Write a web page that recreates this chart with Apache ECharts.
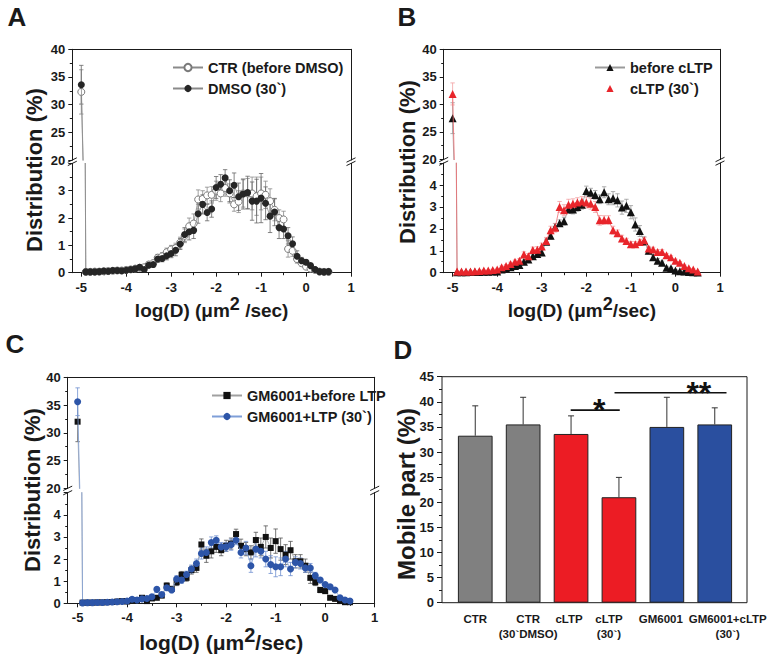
<!DOCTYPE html>
<html><head><meta charset="utf-8">
<script src="https://cdn.jsdelivr.net/npm/echarts@6/dist/echarts.min.js"></script>
<style>html,body{margin:0;padding:0;background:#fff}#c{width:774px;height:656px}</style>
</head><body><div id="c"></div>
<script>
// ---------------- DATA ----------------
const logD = [-5, -4.9, -4.8, -4.7, -4.6, -4.5, -4.4, -4.3, -4.2, -4.1, -4.0, -3.9, -3.8, -3.7, -3.6, -3.5, -3.4, -3.3, -3.2, -3.1, -3.0, -2.9, -2.8, -2.7, -2.6, -2.5, -2.4, -2.3, -2.2, -2.1, -2.0, -1.9, -1.8, -1.7, -1.6, -1.5, -1.4, -1.3, -1.2, -1.1, -1.0, -0.9, -0.8, -0.7, -0.6, -0.5, -0.4, -0.3, -0.2, -0.1, 0.0, 0.1, 0.2, 0.3, 0.4, 0.5];
const xTicks = [-5, -4, -3, -2, -1, 0, 1];

// Panel A
const A_ctr = [32.3, 0.03,0.03,0.04,0.04,0.05,0.06,0.07,0.08,0.08,0.1, 0.12,0.15,0.18,0.2,0.3,0.35,0.55,0.6,0.75,0.85, 0.9,1.1,1.35,1.7,1.8,2.68,2.7,2.83,2.85,3.0, 2.9,3.1,2.9,2.5,2.6,2.9,2.9,2.9,2.8,2.9, 2.85,2.62,2.3,2.0,1.95,0.87,0.8,0.5,0.35,0.22, 0.15,0.1,0.04,0.03,0.03];
const A_ctrErr = [4.0, 0.02,0.02,0.02,0.02,0.03,0.03,0.03,0.03,0.04,0.04, 0.05,0.05,0.06,0.07,0.08,0.1,0.12,0.13,0.15,0.15, 0.18,0.2,0.25,0.3,0.35,0.35,0.3,0.3,0.3,0.35, 0.3,0.3,0.35,0.25,0.4,0.5,0.55,0.6,0.7,0.6, 0.5,0.45,0.4,0.3,0.3,0.3,0.2,0.15,0.1,0.08, 0.06,0.05,0.03,0.02,0.02];
const A_dmso = [33.6, 0.03,0.03,0.03,0.04,0.06,0.05,0.08,0.08,0.07,0.09, 0.12,0.14,0.2,0.12,0.27,0.3,0.5,0.52,0.62,0.7, 0.82,1.05,1.4,1.5,1.55,2.16,2.5,2.2,2.33,3.12, 3.24,3.47,3.0,3.2,2.78,2.88,2.93,2.62,2.62,2.73, 2.54,2.07,2.22,1.65,1.6,1.35,1.06,0.6,0.44,0.38, 0.26,0.12,0.04,0.03,0.04];
const A_dmsoErr = [3.5, 0.02,0.02,0.02,0.02,0.03,0.03,0.03,0.03,0.03,0.04, 0.05,0.05,0.06,0.06,0.08,0.1,0.12,0.12,0.15,0.15, 0.2,0.2,0.25,0.3,0.3,0.35,0.35,0.3,0.3,0.4, 0.35,0.3,0.4,0.45,0.5,0.55,0.6,0.7,0.8,0.9, 0.6,0.6,0.5,0.4,0.35,0.3,0.25,0.2,0.12,0.1, 0.08,0.06,0.03,0.02,0.02];

// Panel B
const B_before = [27.5, 0.02,0.02,0.02,0.03,0.03,0.03,0.04,0.04,0.05,0.06, 0.15,0.2,0.25,0.3,0.35,0.5,0.6,0.75,0.85,0.92, 1.41,1.68,2.09,2.26,2.35,2.9,2.88,3.0,3.1,3.73, 3.65,3.55,3.35,3.67,3.35,3.4,3.3,2.97,3.05,2.76, 2.2,1.9,1.44,1.0,0.7,0.55,0.45,0.23,0.2,0.1, 0.07,0.05,0.03,0.02,0.01];
const B_beforeErr = [2.8, 0.01,0.01,0.01,0.01,0.01,0.02,0.02,0.02,0.02,0.03, 0.04,0.05,0.05,0.06,0.06,0.08,0.08,0.1,0.1,0.12, 0.12,0.15,0.15,0.15,0.18,0.2,0.2,0.2,0.2,0.22, 0.2,0.2,0.2,0.25,0.25,0.3,0.3,0.3,0.3,0.3, 0.3,0.25,0.2,0.15,0.12,0.1,0.08,0.06,0.05,0.04, 0.03,0.02,0.02,0.01,0.01];
const B_cltp = [31.9, 0.05,0.05,0.06,0.06,0.07,0.08,0.1,0.1,0.12,0.15, 0.25,0.3,0.4,0.5,0.55,0.83,0.75,1.03,1.05,1.2, 1.45,1.94,2.05,3.0,2.85,3.1,3.15,3.2,3.25,3.2, 3.15,3.0,2.39,2.4,2.4,1.94,1.8,1.56,1.45,1.3, 1.3,1.4,1.48,1.1,1.06,0.95,0.95,0.8,0.7,0.55, 0.45,0.3,0.2,0.15,0.05];
const B_cltpErr = [2.0, 0.02,0.02,0.02,0.02,0.02,0.03,0.03,0.03,0.04,0.05, 0.06,0.07,0.08,0.08,0.1,0.12,0.12,0.14,0.14,0.15, 0.16,0.18,0.2,0.25,0.25,0.25,0.22,0.22,0.22,0.25, 0.25,0.25,0.22,0.2,0.2,0.18,0.15,0.15,0.12,0.12, 0.12,0.12,0.12,0.1,0.1,0.1,0.1,0.08,0.08,0.07, 0.06,0.05,0.04,0.03,0.02];

// Panel C
const C_before = [32.0, 0.03,0.03,0.03,0.04,0.04,0.05,0.06,0.08,0.1,0.08, 0.15,0.15,0.25,0.1,0.22,0.25,0.35,0.8,0.65,0.95, 1.29,1.15,1.5,1.6,2.66,2.15,2.35,2.55,2.4,2.6, 2.7,3.13,2.6,2.45,2.3,2.86,2.55,3.0,2.5,2.81, 2.45,2.2,2.4,1.9,1.9,1.7,1.15,0.95,0.6,0.55, 0.25,0.2,0.1,0.05,0.05];
const C_beforeErr = [3.6, 0.02,0.02,0.02,0.02,0.03,0.03,0.03,0.04,0.04,0.04, 0.05,0.05,0.06,0.06,0.07,0.08,0.1,0.12,0.12,0.15, 0.15,0.15,0.18,0.2,0.25,0.3,0.3,0.25,0.25,0.25, 0.25,0.22,0.3,0.3,0.3,0.35,0.4,0.5,0.45,0.55, 0.5,0.45,0.4,0.3,0.3,0.3,0.25,0.15,0.12,0.1, 0.08,0.05,0.04,0.03,0.02];
const C_ltp = [35.6, 0.02,0.03,0.03,0.04,0.04,0.05,0.06,0.07,0.08,0.1, 0.18,0.15,0.2,0.22,0.3,0.63,0.4,0.7,0.6,1.1, 1.05,1.3,1.55,1.8,2.25,2.3,2.75,2.85,2.55,2.55, 2.65,2.85,2.3,2.5,1.7,2.45,2.35,2.0,1.75,1.65, 1.65,2.0,1.55,1.85,1.8,1.6,1.6,1.25,1.05,0.85, 0.75,0.6,0.25,0.15,0.1];
const C_ltpErr = [2.5, 0.02,0.02,0.02,0.02,0.03,0.03,0.03,0.03,0.04,0.04, 0.05,0.05,0.06,0.06,0.07,0.1,0.1,0.12,0.12,0.15, 0.15,0.15,0.18,0.2,0.25,0.25,0.25,0.2,0.2,0.2, 0.25,0.2,0.25,0.3,0.3,0.35,0.3,0.35,0.4,0.45, 0.4,0.35,0.3,0.25,0.25,0.2,0.2,0.15,0.12,0.1, 0.1,0.08,0.06,0.04,0.03];

// Panel D
const barCats = ['CTR', 'CTR\n(30`DMSO)', 'cLTP', 'cLTP\n(30`)', 'GM6001', 'GM6001+cLTP\n(30`)'];
const barVals = [33.25, 35.5, 33.6, 21.0, 35.0, 35.5];
const barErr = [5.95, 5.4, 3.6, 3.95, 5.9, 3.3];
const sigBrackets = [ // [from, to, level, star position, text] in bar-axis units
  [3.0, 4.03, 38.35, 3.6, '*'],
  [3.92, 6.27, 41.8, 5.69, '**']
];

// ---------------- STYLE / LAYOUT ----------------
const FONT = '"Liberation Sans", Arial, Helvetica, sans-serif';
const INK = '#1a1a1a';
const barColors = ['#808080', '#808080', '#ec1c24', '#ec1c24', '#2a4f9f', '#2a4f9f'];
const labelShift = [0, 10, -4, -20, -12, 26]; // horizontal nudges of category labels (px, doubled)
const axisLS = {color: INK, width: 1};
const tickLab = {fontFamily: FONT, fontWeight: 'bold', fontSize: 13, color: INK};

const grids = [], xAxes = [], yAxes = [], series = [], graphics = [], legends = [];

function errRender(color, cap) {
  return function (params, api) {
    const x = api.value(0), y = api.value(1), e = api.value(2);
    const a = api.coord([x, y + e]), b = api.coord([x, y - e]);
    const st = {stroke: color, lineWidth: 0.8};
    return {type: 'group', children: [
      {type: 'line', shape: {x1: a[0], y1: a[1], x2: b[0], y2: b[1]}, style: st},
      {type: 'line', shape: {x1: a[0] - cap, y1: a[1], x2: a[0] + cap, y2: a[1]}, style: st},
      {type: 'line', shape: {x1: b[0] - cap, y1: b[1], x2: b[0] + cap, y2: b[1]}, style: st}
    ]};
  };
}

function addPanel(L, defs) {
  const g = grids.length;
  const w = L.right - L.left;
  grids.push({left: L.left, top: L.uTop, width: w, height: L.uBot - L.uTop});
  grids.push({left: L.left, top: L.lTop, width: w, height: L.lBot - L.lTop});
  const xi = xAxes.length;
  xAxes.push({type: 'value', gridIndex: g, position: 'top', min: -5.2, max: 1,
    axisLine: {show: true, onZero: false, lineStyle: axisLS}, axisTick: {show: false}, axisLabel: {show: false}, splitLine: {show: false}});
  xAxes.push({type: 'value', gridIndex: g + 1, position: 'bottom', min: -5.2, max: 1,
    axisLine: {show: true, onZero: false, lineStyle: axisLS},
    axisTick: {show: true, length: 4, lineStyle: axisLS, customValues: xTicks},
    minorTick: {show: true, splitNumber: 2, length: 2.5, lineStyle: axisLS},
    axisLabel: Object.assign({margin: 8, customValues: xTicks}, tickLab), splitLine: {show: false},
    name: 'log(D) (μm{s|2}' + L.xSep + '/sec)', nameLocation: 'middle', nameGap: L.nameGap,
    nameTextStyle: {fontFamily: FONT, fontWeight: 'bold', fontSize: L.xFont, color: INK,
      rich: {s: {fontFamily: FONT, fontWeight: 'bold', fontSize: L.xFont - 1, color: INK, padding: [0, 0, 14, 0]}}}});
  const yi = yAxes.length;
  yAxes.push({type: 'value', gridIndex: g, position: 'left', min: 20, max: 40, interval: 5,
    axisLine: {show: true, onZero: false, lineStyle: axisLS}, axisTick: {show: true, length: 4, lineStyle: axisLS},
    minorTick: {show: true, splitNumber: 2, length: 2.5, lineStyle: axisLS},
    axisLabel: Object.assign({margin: 7}, tickLab), splitLine: {show: false}});
  yAxes.push({type: 'value', gridIndex: g, position: 'right', min: 20, max: 40,
    axisLine: {show: true, onZero: false, lineStyle: axisLS}, axisTick: {show: false}, axisLabel: {show: false}, splitLine: {show: false}});
  yAxes.push({type: 'value', gridIndex: g + 1, position: 'left', min: 0, max: L.lMax, interval: 1,
    axisLine: {show: true, onZero: false, lineStyle: axisLS}, axisTick: {show: true, length: 4, lineStyle: axisLS},
    minorTick: {show: true, splitNumber: 2, length: 2.5, lineStyle: axisLS},
    axisLabel: Object.assign({margin: 7, showMaxLabel: false}, tickLab), splitLine: {show: false}});
  yAxes.push({type: 'value', gridIndex: g + 1, position: 'right', min: 0, max: L.lMax,
    axisLine: {show: true, onZero: false, lineStyle: axisLS}, axisTick: {show: false}, axisLabel: {show: false}, splitLine: {show: false}});

  defs.forEach((d, k) => {
    const pts = logD.map((x, i) => [x, d.vals[i]]);
    const epts = logD.map((x, i) => [x, d.vals[i], d.errs[i]]);
    [[xi, yi], [xi + 1, yi + 2]].forEach(([xa, ya]) => {
      series.push({type: 'custom', name: d.name + ' err', xAxisIndex: xa, yAxisIndex: ya, clip: true, silent: true, z: 1 + k,
        encode: {x: 0, y: 1}, data: epts, renderItem: errRender(d.errColor, 2.2)});
    });
    [[xi, yi], [xi + 1, yi + 2]].forEach(([xa, ya]) => {
      series.push({type: 'line', name: d.name, xAxisIndex: xa, yAxisIndex: ya, clip: true, z: 5 + k,
        data: pts, symbol: d.symbol, symbolSize: d.size, showSymbol: true,
        lineStyle: {color: d.lineColor, width: 0.8},
        itemStyle: {color: d.fill, borderColor: d.border, borderWidth: d.bw},
        emphasis: {disabled: true}, silent: true});
    });
  });

  legends.push({orient: 'vertical', left: L.legLeft, top: L.legTop, itemWidth: 30, itemHeight: 9, itemGap: 6,
    selectedMode: false, textStyle: {fontFamily: FONT, fontWeight: 'bold', fontSize: 14.5, color: INK},
    data: defs.map(d => d.noLegLine ? {name: d.name, lineStyle: {color: 'rgba(0,0,0,0)', opacity: 0}} : {name: d.name})});

  // axis break marks
  const mk = (x, y) => graphics.push({type: 'line', shape: {x1: x - 4.5, y1: y + 2.2, x2: x + 4.5, y2: y - 2.2}, style: {stroke: INK, lineWidth: 1}});
  [L.left, L.right].forEach(x => { mk(x, L.uBot); mk(x, L.lTop); });
}

addPanel({left: 72.3, right: 351, uTop: 49.3, uBot: 160, lTop: 163.4, lBot: 272.7, lMax: 4,
  xSep: ' ', xFont: 19, nameGap: 22, legLeft: 167, legTop: 55}, [
  {name: 'CTR (before DMSO)', vals: A_ctr, errs: A_ctrErr, symbol: 'circle', size: 7, fill: '#ffffff', border: '#7a7a7a', bw: 1, lineColor: '#8a8a8a', errColor: '#8a8a8a'},
  {name: 'DMSO (30`)', vals: A_dmso, errs: A_dmsoErr, symbol: 'circle', size: 7, fill: '#262626', border: '#262626', bw: 0, lineColor: '#8a8a8a', errColor: '#666666'}
]);
addPanel({left: 443.7, right: 720, uTop: 49.3, uBot: 159.5, lTop: 163.1, lBot: 272.7, lMax: 5,
  xSep: '', xFont: 19, nameGap: 22, legLeft: 589, legTop: 55}, [
  {name: 'before cLTP', vals: B_before, errs: B_beforeErr, symbol: 'triangle', size: 8, fill: '#111111', border: '#111111', bw: 0, lineColor: '#9a9a9a', errColor: '#9a9a9a'},
  {name: 'cLTP (30`)', vals: B_cltp, errs: B_cltpErr, symbol: 'triangle', size: 8, fill: '#e8252b', border: '#e8252b', bw: 0, lineColor: '#ef6a6e', errColor: '#f2a0a2', noLegLine: true}
]);
addPanel({left: 67.7, right: 374.7, uTop: 377.3, uBot: 488.3, lTop: 492.7, lBot: 603.3, lMax: 5,
  xSep: '', xFont: 21, nameGap: 22, legLeft: 206, legTop: 383}, [
  {name: 'GM6001+before LTP', vals: C_before, errs: C_beforeErr, symbol: 'rect', size: 6, fill: '#111111', border: '#111111', bw: 0, lineColor: '#a0a0a0', errColor: '#555555'},
  {name: 'GM6001+LTP (30`)', vals: C_ltp, errs: C_ltpErr, symbol: 'circle', size: 7, fill: '#2d55a8', border: '#2d55a8', bw: 0, lineColor: '#7f9fd8', errColor: '#6f8fcf'}
]);

// Panel D: frame grid (value x for brackets) + bar grid (categories)
const gF = grids.length;
grids.push({left: 442, top: 376.7, width: 305, height: 226, show: true, borderColor: INK, borderWidth: 1, backgroundColor: 'transparent'});
grids.push({left: 451.3, top: 376.7, width: 287.4, height: 226});
const catRich = {};
labelShift.forEach((s, i) => {
  catRich['c' + i] = {fontFamily: FONT, fontWeight: 'bold', fontSize: 11.5, color: INK, lineHeight: 15,
    padding: s >= 0 ? [0, 0, 0, s] : [0, -s, 0, 0]};
});
const xF = xAxes.length;
xAxes.push({type: 'value', gridIndex: gF, min: 0.3, max: 6.7, axisLine: {show: false}, axisTick: {show: false}, axisLabel: {show: false}, splitLine: {show: false}});
xAxes.push({type: 'category', gridIndex: gF + 1, data: barCats, axisLine: {show: false}, axisTick: {show: false},
  axisLabel: Object.assign({}, tickLab, {fontSize: 11.5, lineHeight: 15, margin: 9, interval: 0, rich: catRich,
    formatter: function (v, i) { return v.split('\n').map(s => '{c' + i + '|' + s + '}').join('\n'); }}),
  splitLine: {show: false}});
const yF = yAxes.length;
yAxes.push({type: 'value', gridIndex: gF, min: 0, max: 45, interval: 5, axisLine: {show: false},
  axisTick: {show: true, length: 5, lineStyle: axisLS}, minorTick: {show: true, splitNumber: 2, length: 3, lineStyle: axisLS},
  axisLabel: Object.assign({margin: 8}, tickLab), splitLine: {show: false}});
yAxes.push({type: 'value', gridIndex: gF + 1, min: 0, max: 45, show: false});

series.push({type: 'custom', name: 'barErr', xAxisIndex: xF + 1, yAxisIndex: yF + 1, silent: true, z: 1,
  data: barVals.map((v, i) => [i, v, barErr[i]]),
  renderItem: function (params, api) {
    const i = api.value(0), v = api.value(1), e = api.value(2);
    const a = api.coord([i, v + e]), b = api.coord([i, v]);
    const st = {stroke: '#333', lineWidth: 1};
    return {type: 'group', children: [
      {type: 'line', shape: {x1: a[0], y1: a[1], x2: b[0], y2: b[1]}, style: st},
      {type: 'line', shape: {x1: a[0] - 3, y1: a[1], x2: a[0] + 3, y2: a[1]}, style: st}
    ]};
  }});
series.push({type: 'bar', name: 'Mobile part', xAxisIndex: xF + 1, yAxisIndex: yF + 1, barWidth: 34.7, z: 2, silent: true,
  data: barVals.map((v, i) => ({value: v, itemStyle: {color: barColors[i], borderColor: '#222', borderWidth: 1}}))});
series.push({type: 'custom', name: 'sig', xAxisIndex: xF, yAxisIndex: yF, silent: true, z: 3,
  data: sigBrackets.map(s => [s[0], s[1], s[2], s[3]]),
  renderItem: function (params, api) {
    const p1 = api.coord([api.value(0), api.value(2)]), p2 = api.coord([api.value(1), api.value(2)]);
    const ps = api.coord([api.value(3), api.value(2)]);
    return {type: 'group', children: [
      {type: 'line', shape: {x1: p1[0], y1: p1[1], x2: p2[0], y2: p2[1]}, style: {stroke: '#111', lineWidth: 1.6}},
      {type: 'text', x: ps[0], y: ps[1], style: {text: sigBrackets[params.dataIndex][4], fill: '#111',
        font: 'bold 32px ' + FONT, textAlign: 'center', textVerticalAlign: 'middle', align: 'center', verticalAlign: 'middle'}}
    ]};
  }});

// titles & panel letters
function txt(x, y, s, size, rot) {
  graphics.push({type: 'text', x: x, y: y, rotation: rot || 0, style: {text: s, fill: INK,
    font: 'bold ' + size + 'px ' + FONT, textAlign: 'center', textVerticalAlign: 'middle', align: 'center', verticalAlign: 'middle'}});
}
txt(34, 170, 'Distribution (%)', 22, Math.PI / 2);
txt(407, 162, 'Distribution (%)', 22, Math.PI / 2);
txt(32, 490, 'Distribution (%)', 22, Math.PI / 2);
txt(406, 494, 'Mobile part (%)', 24, Math.PI / 2);
txt(17, 17, 'A', 26);
txt(407, 17, 'B', 26);
txt(15, 344, 'C', 26);
txt(403, 350, 'D', 26);

const chart = echarts.init(document.getElementById('c'), null, {renderer: 'svg', width: 774, height: 656});
chart.setOption({
  animation: false,
  backgroundColor: '#ffffff',
  grid: grids, xAxis: xAxes, yAxis: yAxes, series: series, legend: legends,
  graphic: graphics
});
</script>
</body></html>
